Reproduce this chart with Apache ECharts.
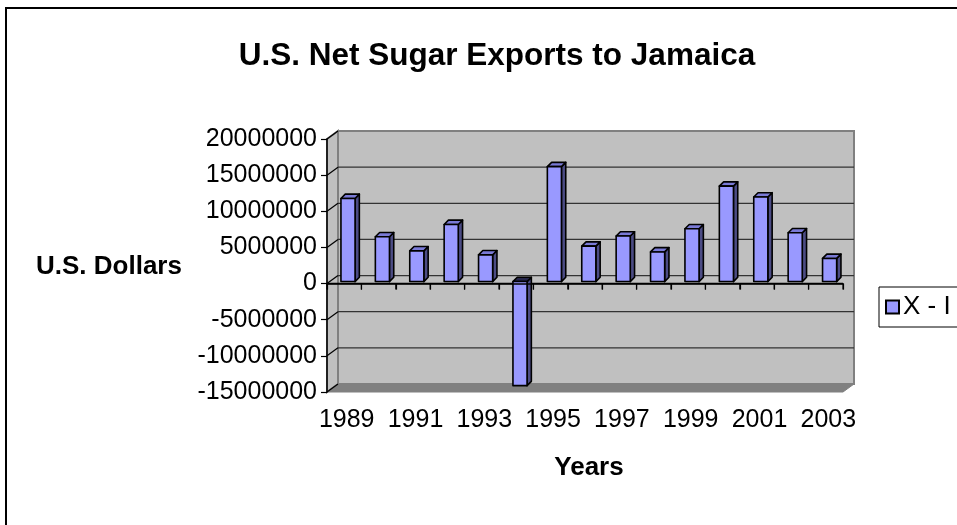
<!DOCTYPE html>
<html><head><meta charset="utf-8">
<script src="https://cdn.jsdelivr.net/npm/echarts@6/dist/echarts.min.js"></script>
<style>html,body{margin:0;padding:0;background:#fff}#c{width:957px;height:525px}</style>
</head><body><div id="c"></div>
<script>
const years = ['1989','1990','1991','1992','1993','1994','1995','1996','1997','1998','1999','2000','2001','2002','2003'];
const netExports = [11500000, 6200000, 4250000, 7900000, 3700000, -14400000, 15900000, 4900000, 6300000, 4100000, 7300000, 13200000, 11700000, 6750000, 3200000];
const yTickValues = [-15000000, -10000000, -5000000, 0, 5000000, 10000000, 15000000, 20000000];
const seriesName = 'X - I';

const FONT = '"Liberation Sans", Arial, sans-serif';
const DX = 11, DY = -8;      // wall depth offset
const BSX = 3.8, BSY = -2;   // bar position inside depth
const BD = 4.3;              // bar depth

const chart = echarts.init(document.getElementById('c'), null, {renderer: 'canvas'});

function wallsItem(params, api) {
  const cs = params.coordSys;
  const L = cs.x, T = cs.y, R = cs.x + cs.width, B = cs.y + cs.height;
  const band = api.size([1, 0])[0];
  const ch = [];
  ch.push({type: 'rect', shape: {x: L + DX, y: T + DY, width: R - L, height: B - T},
    style: {fill: '#C0C0C0', stroke: '#808080', lineWidth: 2}});
  ch.push({type: 'polygon', shape: {points: [[L, T], [L + DX, T + DY], [L + DX, B + DY], [L, B]]},
    style: {fill: '#C0C0C0', stroke: '#808080', lineWidth: 2}});
  ch.push({type: 'polygon', shape: {points: [[L, B], [L + DX, B + DY], [R + DX, B + DY], [R, B]]},
    style: {fill: '#808080', stroke: '#808080', lineWidth: 1}});
  yTickValues.forEach(function (t) {
    const y = api.coord([0, t])[1];
    if (t !== yTickValues[0] && t !== yTickValues[yTickValues.length - 1]) {
      ch.push({type: 'line', shape: {x1: L + DX, y1: y + DY, x2: R + DX, y2: y + DY},
        style: {stroke: '#333333', lineWidth: 1.2}});
    }
    ch.push({type: 'line', shape: {x1: L, y1: y, x2: L + DX, y2: y + DY},
      style: {stroke: '#000', lineWidth: 1.2}});
  });
  const y0 = api.coord([0, 0])[1];
  ch.push({type: 'line', shape: {x1: L, y1: y0, x2: R, y2: y0}, style: {stroke: '#000', lineWidth: 1.6}});
  for (let k = 0; k <= years.length; k++) {
    const x = L + k * band;
    ch.push({type: 'line', shape: {x1: x, y1: y0, x2: x, y2: y0 + 6}, style: {stroke: '#000', lineWidth: 1.2}});
  }
  return {type: 'group', children: ch};
}

function barItem(params, api) {
  const i = api.value(0), v = api.value(1);
  const p0 = api.coord([i, 0]);
  const p1 = api.coord([i, v]);
  const band = api.size([1, 0])[0];
  const w = band * 0.41;
  const x0 = p0[0] - w / 2 + BSX;
  const yb = p0[1] + BSY, yt = p1[1] + BSY;
  const top = Math.min(yb, yt), bot = Math.max(yb, yt);
  const st = {stroke: '#000', lineWidth: 1.6, lineJoin: 'round'};
  return {type: 'group', children: [
    {type: 'polygon', shape: {points: [[x0 + w, top], [x0 + w + BD, top - BD], [x0 + w + BD, bot - BD], [x0 + w, bot]]},
      style: Object.assign({fill: '#4C4C85'}, st)},
    {type: 'polygon', shape: {points: [[x0, top], [x0 + BD, top - BD], [x0 + w + BD, top - BD], [x0 + w, top]]},
      style: Object.assign({fill: v < 0 ? '#26264a' : '#7A7AD6'}, st)},
    {type: 'rect', shape: {x: x0, y: top, width: w, height: bot - top},
      style: Object.assign({fill: '#9999FF'}, st)}
  ]};
}

const option = {
  animation: false,
  backgroundColor: '#fff',
  title: {text: 'U.S. Net Sugar Exports to Jamaica', left: 492, top: 35, textAlign: 'center',
    textStyle: {fontFamily: FONT, fontSize: 31.5, fontWeight: 'bold', color: '#000'}},
  legend: {left: 879, top: 287, orient: 'vertical', padding: [7, 20, 7, 6], itemGap: 0,
    itemWidth: 13, itemHeight: 13, backgroundColor: '#fff', borderColor: '#000', borderWidth: 1,
    borderRadius: 0, selectedMode: false,
    data: [{name: seriesName, icon: 'rect'}],
    textStyle: {fontFamily: FONT, fontSize: 26, color: '#000', padding: [0, 0, 0, -1]}},
  grid: {left: 327, top: 139, width: 516, height: 253, containLabel: false},
  xAxis: {type: 'category', data: years, boundaryGap: true, z: 10,
    name: 'Years', nameLocation: 'middle', nameGap: 63,
    nameTextStyle: {fontFamily: FONT, fontSize: 26, fontWeight: 'bold', color: '#000', padding: [0, 0, 0, 8]},
    axisLine: {show: true, lineStyle: {color: '#000', width: 1.5}},
    axisTick: {show: true, interval: 0, length: 6, alignWithLabel: false, lineStyle: {color: '#000', width: 1.2}},
    axisLabel: {interval: 1, margin: 16, fontFamily: FONT, fontSize: 25, color: '#000', padding: [0, 0, 0, 5]},
    splitLine: {show: false}},
  yAxis: {type: 'value', min: -15000000, max: 20000000, interval: 5000000, z: 10,
    axisLine: {show: true, lineStyle: {color: '#000', width: 1.5}},
    axisTick: {show: true, length: 6, lineStyle: {color: '#000', width: 1.2}},
    axisLabel: {margin: 10, fontFamily: FONT, fontSize: 25, color: '#000',
      formatter: function (v) { return String(v); }},
    splitLine: {show: false}},
  graphic: [
    {type: 'rect', shape: {x: 6, y: 8, width: 1000, height: 600}, style: {fill: 'none', stroke: '#000', lineWidth: 2}, z: -10},
    {type: 'text', left: 36, top: 254, style: {text: 'U.S. Dollars', font: 'bold 26px ' + FONT, fill: '#000'}}
  ],
  series: [
    {type: 'custom', name: 'walls', z: 1, silent: true, renderItem: wallsItem, data: [[0, 0]], encode: {x: 0, y: 1}, clip: false},
    {type: 'custom', name: seriesName, z: 5, renderItem: barItem, clip: false,
      itemStyle: {color: '#9999FF', borderColor: '#000', borderWidth: 1},
      data: netExports.map(function (v, i) { return [i, v]; }), encode: {x: 0, y: 1}}
  ]
};
chart.setOption(option);
</script>
</body></html>
